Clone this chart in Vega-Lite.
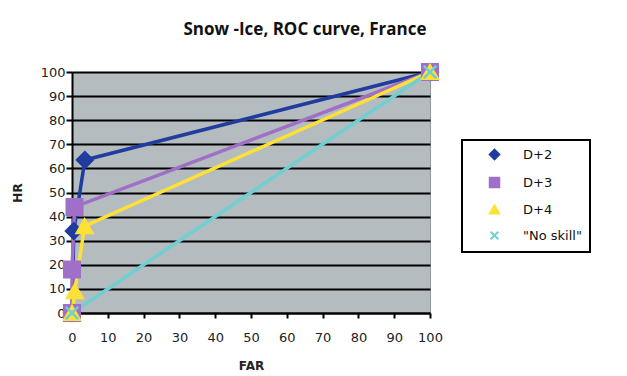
{
  "$schema": "https://vega.github.io/schema/vega-lite/v6.json",
  "autosize": "none",
  "width": 358,
  "height": 241,
  "padding": {"left": 72, "top": 72, "right": 197, "bottom": 63},
  "background": "white",
  "title": {
    "text": "Snow -Ice, ROC curve, France",
    "font": "Open Sans",
    "fontSize": 17,
    "fontWeight": "bold",
    "color": "#111",
    "anchor": "middle",
    "dx": 54,
    "offset": 20
  },
  "data": {
    "values": [
      {"series": "D+2", "FAR": 0, "HR": 0},
      {"series": "D+2", "FAR": 0.5, "HR": 34},
      {"series": "D+2", "FAR": 3.6, "HR": 63.5},
      {"series": "D+2", "FAR": 100, "HR": 100},
      {"series": "D+3", "FAR": 0, "HR": 0},
      {"series": "D+3", "FAR": 0, "HR": 18},
      {"series": "D+3", "FAR": 0.7, "HR": 44},
      {"series": "D+3", "FAR": 100, "HR": 100},
      {"series": "D+4", "FAR": 0, "HR": 0},
      {"series": "D+4", "FAR": 0.8, "HR": 9},
      {"series": "D+4", "FAR": 3.5, "HR": 36},
      {"series": "D+4", "FAR": 100, "HR": 100},
      {"series": "\"No skill\"", "FAR": 0, "HR": 0},
      {"series": "\"No skill\"", "FAR": 100, "HR": 100}
    ]
  },
  "encoding": {
    "x": {
      "field": "FAR", "type": "quantitative",
      "scale": {"domain": [0, 100], "nice": false},
      "axis": {
        "values": [0,10,20,30,40,50,60,70,80,90,100],
        "grid": false, "domainColor": "#000", "domainWidth": 2,
        "tickColor": "#000", "tickWidth": 2, "tickSize": 5,
        "labelFont": "DejaVu Sans", "labelFontSize": 13, "labelColor": "#222",
        "labelPadding": 13, "labelFlush": false,
        "title": "FAR", "titleFont": "DejaVu Sans", "titleFontSize": 12,
        "titleFontWeight": "bold", "titleColor": "#222", "titlePadding": 16
      }
    },
    "y": {
      "field": "HR", "type": "quantitative",
      "scale": {"domain": [0, 100], "nice": false},
      "axis": {
        "values": [0,10,20,30,40,50,60,70,80,90,100],
        "grid": true, "gridColor": "#000", "gridWidth": 2, "gridOpacity": 1,
        "domainColor": "#000", "domainWidth": 2,
        "tickColor": "#000", "tickWidth": 2, "tickSize": 6,
        "labelFont": "DejaVu Sans", "labelFontSize": 13, "labelColor": "#222",
        "labelPadding": 1, "labelFlush": false,
        "title": "HR", "titleFont": "DejaVu Sans", "titleFontSize": 12,
        "titleFontWeight": "bold", "titleColor": "#222", "titlePadding": 16
      }
    }
  },
  "layer": [
    {
      "mark": {"type": "line", "strokeWidth": 3.5},
      "encoding": {
        "stroke": {
          "field": "series", "type": "nominal",
          "scale": {"domain": ["D+2", "D+3", "D+4", "\"No skill\""], "range": ["#1f3c9e", "#a070c8", "#ffe135", "#6fcfd2"]}
        },
        "order": {"field": "FAR"}
      }
    },
    {
      "mark": {"type": "point", "filled": true, "size": 240, "strokeWidth": 2.5, "opacity": 1},
      "encoding": {
        "fill": {
          "field": "series", "type": "nominal",
          "scale": {"domain": ["D+2", "D+3", "D+4", "\"No skill\""], "range": ["#1f3c9e", "#a070c8", "#ffe135", "#6fcfd2"]}
        },
        "stroke": {
          "field": "series", "type": "nominal",
          "scale": {"domain": ["D+2", "D+3", "D+4", "\"No skill\""], "range": ["#1f3c9e", "#a070c8", "#ffe135", "#6fcfd2"]}
        },
        "shape": {
          "field": "series", "type": "nominal",
          "scale": {"domain": ["D+2", "D+3", "D+4", "\"No skill\""], "range": ["diamond", "square", "triangle-up", "M-0.8,-0.8L0.8,0.8M-0.8,0.8L0.8,-0.8"]}
        }
      }
    }
  ],
  "config": {
    "view": {"fill": "#b5bcc0", "stroke": "#8e979b", "strokeWidth": 1},
    "legend": {
      "orient": "none", "legendX": 390, "legendY": 68,
      "title": null,
      "strokeColor": "#000", "strokeWidth": 2, "fillColor": "white",
      "padding": 8, "rowPadding": 9,
      "labelFont": "DejaVu Sans", "labelFontSize": 13, "labelColor": "#111",
      "symbolSize": 90, "symbolStrokeWidth": 2,
      "symbolOffset": 18, "labelOffset": 22
    }
  }
}
